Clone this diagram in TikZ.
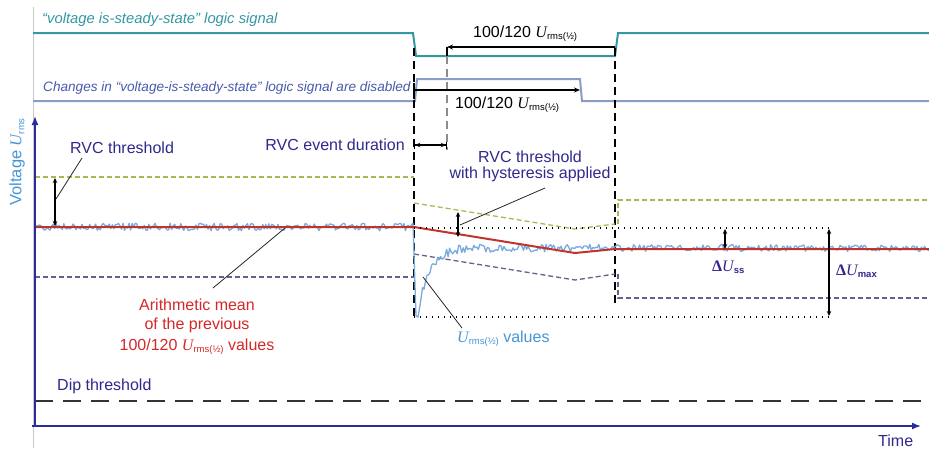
\documentclass[tikz,border=0pt]{standalone}
\usepackage{fontspec}
\usepackage{graphicx}
\setmainfont{Liberation Sans}
\newfontfamily\serifface{Liberation Serif}
\usetikzlibrary{arrows.meta}

\definecolor{sigteal}{RGB}{52,152,163}
\definecolor{sigslate}{RGB}{140,156,200}
\definecolor{slatetext}{RGB}{72,90,172}
\definecolor{navytext}{RGB}{48,40,140}
\definecolor{axisblue}{RGB}{40,44,156}
\definecolor{meanred}{RGB}{192,52,44}
\definecolor{redtext}{RGB}{214,40,40}
\definecolor{rmsblue}{RGB}{120,172,222}
\definecolor{rmstext}{RGB}{70,150,215}
\definecolor{olivedash}{RGB}{168,184,86}
\definecolor{plumdash}{RGB}{106,92,140}
\definecolor{framegray}{RGB}{200,200,200}

% U_rms(1/2) with a small upright subscript
\newcommand{\Uvar}{{\serifface\itshape U}}
\newcommand{\Urmshalf}{\Uvar\raisebox{-0.35ex}{\fontsize{9.5}{10}\selectfont rms(½)}}
\newcommand{\Urmsonly}{\Uvar\raisebox{-0.35ex}{\fontsize{9.5}{10}\selectfont rms}}

\tikzset{
  lbl/.style={inner sep=0pt, font=\fontsize{16}{18}\selectfont},
  siglbl/.style={inner sep=0pt, font=\fontsize{14}{16}\selectfont\itshape},
  tip/.style={-{Stealth[length=6pt,width=5pt]}},
  dtip/.style={{Stealth[length=5pt,width=4.5pt]}-{Stealth[length=5pt,width=4.5pt]}},
  leader/.style={draw=black!85, line width=0.8pt},
  eventline/.style={draw=black, line width=1.3pt, dash pattern=on 8pt off 5pt},
  refdot/.style={draw=black, line width=1.3pt, dash pattern=on 1.3pt off 4.7pt},
  olive/.style={draw=olivedash, line width=1.3pt, dash pattern=on 5pt off 3pt},
  plum/.style={draw=plumdash, line width=1.3pt, dash pattern=on 5pt off 3pt},
  axis/.style={draw=axisblue, line width=1.6pt, -{Latex[length=9pt,width=7pt]}},
}

\begin{document}
\begin{tikzpicture}[x=1pt,y=-1pt]
\useasboundingbox (0,0) rectangle (929,448);
\fill[white] (0,0) rectangle (929,448);

% frame line at the left of the signal rows
\draw[framegray, line width=1pt] (33,7) -- (33,448);

% logic signals
\draw[sigteal, line width=2pt] (33,33) -- (413,33) -- (416,56) -- (615,56) -- (618,33) -- (929,33);
\draw[sigslate, line width=2pt] (33,101) -- (415,101) -- (417,79) -- (580,79) -- (582,101) -- (929,101);
\node[siglbl, text=sigteal, anchor=base west, font=\fontsize{14.8}{16}\selectfont\itshape] (sigA) at (42,23) {“voltage is-steady-state” logic signal};
\node[siglbl, text=slatetext, anchor=base west, font=\fontsize{13.6}{16}\selectfont\itshape] (sigB) at (43,91) {Changes in “voltage-is-steady-state” logic signal are disabled};

% event markers
\coordinate (evS) at (414,48);
\coordinate (evSb) at (414,318);
\coordinate (evE) at (615,48);
\coordinate (evEb) at (615,303);
\draw[eventline] (evS) -- (evSb);
\draw[eventline] (evE) -- (evEb);
\coordinate (hyS) at (447,56);
\coordinate (hySb) at (447,150);
\draw[black!45, line width=1.3pt, dash pattern=on 8pt off 5pt] (hyS) -- (hySb);

% 100/120 windows
\coordinate (wTop) at (447,47);
\coordinate (wTopR) at (615,47);
\draw[black, line width=1.2pt] (hyS) -- (wTop);
\draw[black, line width=1.2pt, tip] (wTopR) -- (wTop);
\node[lbl, anchor=base west] (winA) at (473,37) {100/120 \Urmshalf};
\coordinate (wLow) at (414,90);
\coordinate (wLowR) at (580,90);
\draw[black, line width=1.2pt] (414,83) -- (414,99);
\draw[black, line width=1.2pt, tip] (wLow) -- (wLowR);
\node[lbl, anchor=base west] (winB) at (455,108) {100/120 \Urmshalf};

% RVC event duration
\coordinate (durA) at (414,145);
\coordinate (durB) at (447,145);
\draw[black, line width=1.2pt, {Bar[width=7pt]Stealth[length=5pt,width=4.5pt]}-{Stealth[length=5pt,width=4.5pt]Bar[width=7pt]}] (durA) -- (durB);
\node[lbl, text=navytext, anchor=base east] (durlbl) at (405,150) {RVC event duration};

% Dip threshold
\draw[black!80, line width=1.7pt, dash pattern=on 18pt off 10pt] (35,401) -- (929,401);
\node[lbl, text=navytext, anchor=base west] (diplbl) at (57,390) {Dip threshold};

% upper RVC threshold (olive) and lower RVC threshold (plum)
\draw[olive] (35,177) -- (414,177);
\draw[olive] (414,203) -- (575,229) -- (615,224);
\draw[olive] (618,224) -- (618,200) -- (929,200);
\draw[plum] (35,277) -- (414,277);
\draw[plum] (414,254) -- (575,280) -- (615,274);
\draw[plum] (618,274) -- (618,298) -- (929,298);

% Urms(1/2) values
\pgfmathsetseed{11}
\draw[rmsblue, line width=1.3pt, line join=round] plot[domain=35:413, samples=250] (\x,{227+3.8*rand}) -- (416,316)
  -- plot[domain=418:929, samples=340] (\x,{248+66*exp(-min((\x-418)/11,15))+(4.8-1.4*min((\x-418)/200,1))*rand});

% arithmetic mean
\draw[meanred, line width=2pt] (35,227) -- (414,227) -- (575,253) -- (615,249) -- (929,249);

% reference dotted levels
\coordinate (refT) at (414,228);
\coordinate (refTR) at (829,228);
\coordinate (refB) at (414,317);
\coordinate (refBR) at (829,317);
\draw[refdot] (refT) -- (refTR);
\draw[refdot] (refB) -- (refBR);

% Delta U arrows
\coordinate (ssT) at (725,229);
\coordinate (ssB) at (725,249);
\draw[black, line width=1.2pt, dtip] (ssT) -- (ssB);
\node[inner sep=0pt, text=navytext, anchor=base west, font=\fontsize{16}{18}\selectfont] (sslbl) at (712,271)
  {{\serifface\bfseries Δ}\Uvar\raisebox{-0.35ex}{\fontsize{9.5}{10}\selectfont\bfseries ss}};
\coordinate (mxT) at (829,229);
\coordinate (mxB) at (829,316);
\draw[black, line width=1.2pt, dtip] (mxT) -- (mxB);
\node[inner sep=0pt, text=navytext, anchor=base west, font=\fontsize{16}{18}\selectfont] (mxlbl) at (836,275)
  {{\serifface\bfseries Δ}\Uvar\raisebox{-0.35ex}{\fontsize{9.5}{10}\selectfont\bfseries max}};

% RVC threshold (left)
\coordinate (thT) at (55,178);
\coordinate (thB) at (55,226);
\draw[black, line width=1.2pt, dtip] (thT) -- (thB);
\node[lbl, text=navytext, anchor=base west] (thlbl) at (70,153) {RVC threshold};
\coordinate (thL) at (82,158);
\coordinate (thLe) at (56,199);
\draw[leader] (thL) -- (thLe);

% RVC threshold with hysteresis
\coordinate (hsT) at (458,212);
\coordinate (hsB) at (458,237);
\draw[black, line width=1.2pt, dtip] (hsT) -- (hsB);
\node[lbl, text=navytext, anchor=base] (hslbl) at (530,162) {RVC threshold};
\node[lbl, text=navytext, anchor=base] (hslbl2) at (530,178) {with hysteresis applied};
\coordinate (hsL) at (545,188);
\coordinate (hsLe) at (460,225);
\draw[leader] (hsL) -- (hsLe);

% arithmetic mean label
\node[lbl, text=redtext, anchor=base] (mean1) at (197,310) {Arithmetic mean};
\node[lbl, text=redtext, anchor=base] (mean2) at (197,329) {of the previous};
\node[lbl, text=redtext, anchor=base] (mean3) at (197,350) {100/120 \Urmshalf\ values};
\coordinate (meanL) at (285,228);
\coordinate (meanLe) at (213,288);
\draw[leader] (meanL) -- (meanLe);

% Urms values label
\node[lbl, text=rmstext, anchor=base west] (rmslbl) at (457,342) {\Urmshalf\ values};
\coordinate (rmsL) at (423,277);
\coordinate (rmsLe) at (462,328);
\draw[leader] (rmsL) -- (rmsLe);

% axes
\coordinate (org) at (35,426);
\coordinate (yEnd) at (35,116);
\coordinate (xEnd) at (921,426);
\draw[axis] (org) -- (yEnd);
\draw[axis] (32,426) -- (xEnd);
\node[lbl, text=navytext, anchor=base west] (timelbl) at (878,446) {Time};
\node[inner sep=0pt, text=rmstext, rotate=90, font=\fontsize{16.5}{18}\selectfont] (vlbl) at (17,162) {Voltage \Urmsonly};
\end{tikzpicture}
\end{document}
